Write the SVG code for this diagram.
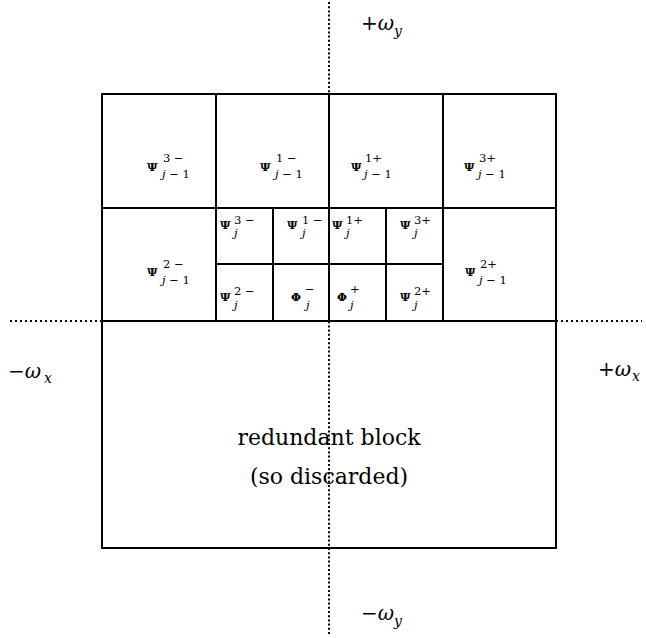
<svg xmlns="http://www.w3.org/2000/svg" width="646" height="638" viewBox="0 0 646 638">
<style>
.ln{stroke:#000;stroke-width:2;fill:none}
.dot{stroke:#000;stroke-width:2;fill:none}
.P{font-family:"DejaVu Serif","Liberation Serif",serif;font-size:11.5px;font-weight:bold;fill:#000}
.s{font-family:"DejaVu Serif","Liberation Serif",serif;font-size:11.5px;fill:#000}
.i{font-style:italic}
.ax{font-family:"DejaVu Serif","Liberation Serif",serif;font-size:20px;fill:#000}
.axs{font-family:"DejaVu Serif","Liberation Serif",serif;font-size:14px;font-style:italic;fill:#000}
.big{font-family:"DejaVu Serif","Liberation Serif",serif;font-size:22px;fill:#000}
</style>
<rect width="646" height="638" fill="#fff"/>
<g id="connectors">
<line class="dot" x1="329" y1="2" x2="329" y2="636" stroke-dasharray="2 2.2"/>
<line class="dot" x1="10" y1="321" x2="102" y2="321" stroke-dasharray="2 3"/>
<line class="dot" x1="556" y1="321" x2="642" y2="321" stroke-dasharray="2 3"/>
</g>
<g id="grid">
<rect class="ln" x="102" y="94" width="454" height="454"/>
<line class="ln" x1="102" y1="548" x2="556" y2="548" stroke-width="3"/>
<line class="ln" x1="102" y1="208" x2="556" y2="208"/>
<line class="ln" x1="102" y1="321" x2="556" y2="321"/>
<line class="ln" x1="216" y1="94" x2="216" y2="321"/>
<line class="ln" x1="329" y1="94" x2="329" y2="321"/>
<line class="ln" x1="443" y1="94" x2="443" y2="321"/>
<line class="ln" x1="216" y1="264" x2="443" y2="264" stroke-width="3"/>
<line class="ln" x1="273" y1="208" x2="273" y2="321"/>
<line class="ln" x1="386" y1="208" x2="386" y2="321"/>
</g>
<g id="psi3m_jm1"><text class="P" x="147" y="171">Ψ</text><text class="s" x="163" y="162">3 −</text><text class="s" x="162" y="178"><tspan class="i">j</tspan> − 1</text></g>
<g id="psi1m_jm1"><text class="P" x="260" y="171">Ψ</text><text class="s" x="276" y="162">1 −</text><text class="s" x="275" y="178"><tspan class="i">j</tspan> − 1</text></g>
<g id="psi1p_jm1"><text class="P" x="351" y="171">Ψ</text><text class="s" x="365" y="162">1+</text><text class="s" x="364" y="178"><tspan class="i">j</tspan> − 1</text></g>
<g id="psi3p_jm1"><text class="P" x="464" y="171">Ψ</text><text class="s" x="479" y="162">3+</text><text class="s" x="478" y="178"><tspan class="i">j</tspan> − 1</text></g>
<g id="psi2m_jm1"><text class="P" x="147" y="276">Ψ</text><text class="s" x="163" y="268">2 −</text><text class="s" x="162" y="284"><tspan class="i">j</tspan> − 1</text></g>
<g id="psi2p_jm1"><text class="P" x="465" y="276">Ψ</text><text class="s" x="480" y="268">2+</text><text class="s" x="479" y="284"><tspan class="i">j</tspan> − 1</text></g>
<g id="psi3m_j"><text class="P" x="220" y="229">Ψ</text><text class="s" x="234" y="224">3 −</text><text class="s" x="234" y="237"><tspan class="i">j</tspan></text></g>
<g id="psi1m_j"><text class="P" x="287" y="229">Ψ</text><text class="s" x="302" y="224">1 −</text><text class="s" x="302" y="237"><tspan class="i">j</tspan></text></g>
<g id="psi1p_j"><text class="P" x="332" y="229">Ψ</text><text class="s" x="346" y="224">1+</text><text class="s" x="346" y="237"><tspan class="i">j</tspan></text></g>
<g id="psi3p_j"><text class="P" x="400" y="229">Ψ</text><text class="s" x="414" y="224">3+</text><text class="s" x="414" y="237"><tspan class="i">j</tspan></text></g>
<g id="psi2m_j"><text class="P" x="220" y="301">Ψ</text><text class="s" x="234" y="295">2 −</text><text class="s" x="234" y="309"><tspan class="i">j</tspan></text></g>
<g id="phim_j"><text class="P" x="291" y="301">Φ</text><text class="s" x="305" y="293">−</text><text class="s" x="306" y="309"><tspan class="i">j</tspan></text></g>
<g id="phip_j"><text class="P" x="337" y="301">Φ</text><text class="s" x="350" y="293">+</text><text class="s" x="350" y="309"><tspan class="i">j</tspan></text></g>
<g id="psi2p_j"><text class="P" x="400" y="301">Ψ</text><text class="s" x="414" y="295">2+</text><text class="s" x="414" y="309"><tspan class="i">j</tspan></text></g>
<g id="redundant">
<text class="big" x="329" y="445" text-anchor="middle">redundant block</text>
<text class="big" x="329" y="484" text-anchor="middle">(so discarded)</text>
</g>
<g id="axis-labels">
<text class="ax" x="361" y="30">+<tspan font-style="italic">ω</tspan></text><text class="axs" x="394" y="36">y</text>
<text class="ax" x="361" y="620">−<tspan font-style="italic">ω</tspan></text><text class="axs" x="394" y="626">y</text>
<text class="ax" x="8" y="378">−<tspan font-style="italic">ω</tspan></text><text class="axs" x="44" y="383">x</text>
<text class="ax" x="598" y="376">+<tspan font-style="italic">ω</tspan></text><text class="axs" x="632" y="381">x</text>
</g>
</svg>
